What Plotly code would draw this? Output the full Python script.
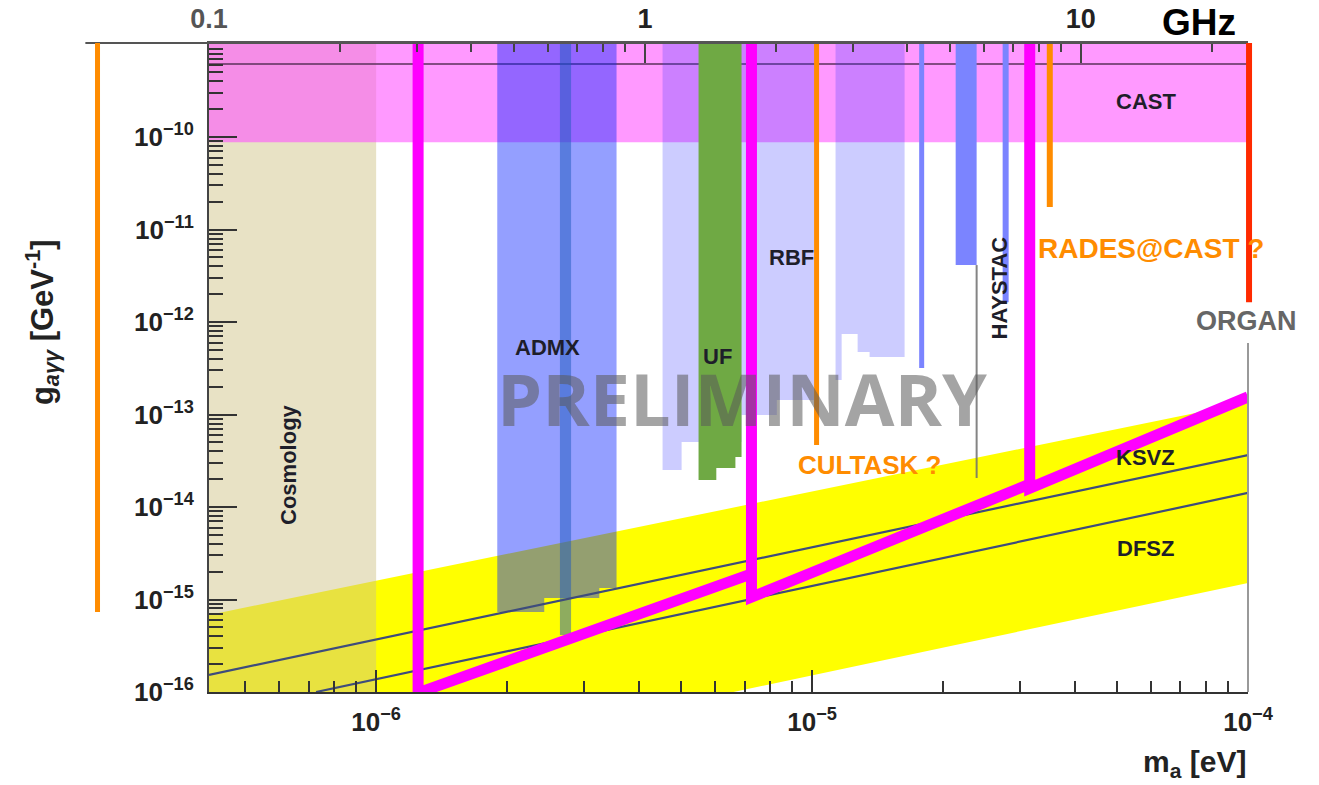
import math
import plotly.graph_objects as go

# ---------------- data ----------------
EV_PER_GHZ = 4.1357e-6                 # photon energy of 1 GHz in eV
m_lim = [0.1 * EV_PER_GHZ, 1e-4]       # axion mass range [eV]
g_lim = [1e-16, 1.04e-9]               # coupling range [GeV^-1]
g_beyond = 5e-9                        # regions run off the top of the frame

x_ticks = [1e-6, 1e-5, 1e-4]
x_ticktext = ["10<sup>−6</sup>", "10<sup>−5</sup>", "10<sup>−4</sup>"]
y_ticks = [1e-16, 1e-15, 1e-14, 1e-13, 1e-12, 1e-11, 1e-10]
y_ticktext = ["10<sup>−16</sup>", "10<sup>−15</sup>", "10<sup>−14</sup>", "10<sup>−13</sup>",
              "10<sup>−12</sup>", "10<sup>−11</sup>", "10<sup>−10</sup>"]
ghz_ticks = [0.1, 1, 10]
ghz_ticktext = ["<span style='color:#555'>0.1</span>", "1", "10"]

# QCD axion band and model lines
band_m = [4.136e-7, 1e-4, 1e-4, 6.6e-6, 4.136e-7]
band_g = [6.8e-16, 1.36e-13, 1.51e-15, 1e-16, 1e-16]
ksvz_m = [4.136e-7, 1e-4]
ksvz_g = [1.53e-16, 3.65e-14]
dfsz_m = [7.28e-7, 1e-4]
dfsz_g = [1e-16, 1.42e-14]

# exclusion regions
cosmology_m = [4.136e-7, 1e-6]
cast_floor = 8.8e-11
cast_limit = 6.15e-10
admx_edges = [1.896e-6, 2.43e-6, 3.25e-6, 3.56e-6]
admx_floor = [7.33e-16, 1.04e-15, 1.33e-15]
admx_narrow_m = [2.64e-6, 2.80e-6]
admx_narrow_floor = 4.13e-16
rbf1_edges = [4.54e-6, 5.02e-6, 6.89e-6, 8.3e-6, 1.013e-5]
rbf1_floor = [2.51e-14, 5.05e-14, 9.9e-14, 1.44e-13]
rbf2_edges = [1.132e-5, 1.169e-5, 1.272e-5, 1.355e-5, 1.63e-5]
rbf2_floor = [2.36e-13, 7.41e-13, 4.74e-13, 4.19e-13]
uf_edges = [5.49e-6, 6.03e-6, 6.67e-6, 6.89e-6]
uf_floor = [1.96e-14, 2.64e-14, 3.47e-14]
blue_line_m = [1.784e-5, 2.78e-5]
blue_line_floor = [3.18e-13, 1.64e-12]
blue_block_m = [2.135e-5, 2.385e-5]
blue_block_floor = 4.13e-12
haystac_m = 2.385e-5
haystac_g = [4.13e-12, 2.06e-14]
cultask_m = 1.024e-5
cultask_floor = 4.68e-14
rades_m = 3.51e-5
rades_floor = 1.75e-11
organ_m = 1e-4
organ_red_floor = 1.64e-12
organ_gray_top = 5.93e-13
left_orange_floor = 7.33e-16

# projected sensitivity (magenta), three stages
proj_m = [1.248e-6, 7.26e-6, 3.157e-5, 1e-4]
proj_vert_floor = [9.8e-17, 1.06e-15, 1.6e-14]
proj_diag_end = [1.89e-15, 1.77e-14, 1.55e-13]

# label positions (eV, GeV^-1)
labels = [
    ("CAST", 5.83e-5, 2.45e-10),
    ("ADMX", 2.47e-6, 5.37e-13),
    ("UF", 6.07e-6, 4.28e-13),
    ("RBF", 8.97e-6, 5.05e-12),
    ("KSVZ", 5.83e-5, 3.47e-14),
    ("DFSZ", 5.83e-5, 3.6e-15),
]
cosmology_label = (6.31e-7, 2.92e-14)
haystac_label = (2.69e-5, 2.33e-12)
cultask_label = (1.355e-5, 2.84e-14)
rades_label = (3.26e-5, 6.3e-12)
organ_label = (9.9e-5, 1.03e-12)
prelim_label = (6.92e-6, 1.51e-13)

# ---------------- figure ----------------
lg = math.log10
FONT = "Liberation Sans"
fig = go.Figure()


def area(xs, ys, color):
    fig.add_trace(go.Scatter(x=xs, y=ys, mode="lines", fill="toself", fillcolor=color,
                             line=dict(width=0, color=color), hoverinfo="skip"))


def rect(x0, x1, y0, y1, color):
    area([x0, x1, x1, x0, x0], [y0, y0, y1, y1, y0], color)


def steps(edges, floors, color):
    xs = [edges[0]]
    ys = [g_beyond]
    for i, f in enumerate(floors):
        xs += [edges[i], edges[i + 1]]
        ys += [f, f]
    xs += [edges[-1], edges[0]]
    ys += [g_beyond, g_beyond]
    area(xs, ys, color)


def vline(m, g0, g1, color, width):
    fig.add_trace(go.Scatter(x=[m, m], y=[g0, g1], mode="lines",
                             line=dict(color=color, width=width), hoverinfo="skip"))


# QCD band
area(band_m, band_g, "#ffff00")
# Cosmology
rect(cosmology_m[0], cosmology_m[1], g_lim[0], g_beyond, "rgba(207,195,133,0.48)")
# CAST
rect(m_lim[0], m_lim[1], cast_floor, g_beyond, "rgba(255,80,255,0.583)")
fig.add_trace(go.Scatter(x=m_lim, y=[cast_limit, cast_limit], mode="lines",
                         line=dict(color="rgba(90,50,90,0.75)", width=2), hoverinfo="skip"))
# RBF
steps(rbf1_edges, rbf1_floor, "rgba(55,55,255,0.255)")
steps(rbf2_edges, rbf2_floor, "rgba(55,55,255,0.255)")
# ADMX
steps(admx_edges, admx_floor, "rgba(12,37,255,0.44)")
rect(admx_narrow_m[0], admx_narrow_m[1], admx_narrow_floor, g_beyond, "rgba(30,90,190,0.5)")
# model lines
fig.add_trace(go.Scatter(x=ksvz_m, y=ksvz_g, mode="lines", line=dict(color="#3e4c7c", width=2.2)))
fig.add_trace(go.Scatter(x=dfsz_m, y=dfsz_g, mode="lines", line=dict(color="#3e4c7c", width=2.2)))
# UF
steps(uf_edges, uf_floor, "#6fa944")
# other haloscopes
vline(blue_line_m[0], blue_line_floor[0], g_beyond, "#7b84ff", 5)
vline(blue_line_m[1], blue_line_floor[1], g_beyond, "#7b84ff", 6)
rect(blue_block_m[0], blue_block_m[1], blue_block_floor, g_beyond, "#7b84ff")
vline(haystac_m, haystac_g[0], haystac_g[1], "rgba(110,110,110,0.85)", 2)
# future experiments
vline(cultask_m, cultask_floor, g_beyond, "#ff8c00", 5)
vline(rades_m, rades_floor, g_beyond, "#ff8c00", 6)

# magenta projection
px, py = [], []
for i in range(3):
    px += [proj_m[i], proj_m[i], proj_m[i + 1], None]
    py += [g_beyond, proj_vert_floor[i], proj_diag_end[i], None]
fig.add_trace(go.Scatter(x=px, y=py, mode="lines", connectgaps=False,
                         line=dict(color="#ff00ff", width=11), hoverinfo="skip"))

# dummy trace to carry the GHz axis
fig.add_trace(go.Scatter(x=[1], y=[1e-12], xaxis="x2", mode="markers",
                         marker=dict(opacity=0), hoverinfo="skip"))


def gpaper(g):
    return (lg(g) - lg(g_lim[0])) / (lg(g_lim[1]) - lg(g_lim[0]))


def mpaper(m):
    return (lg(m) - lg(m_lim[0])) / (lg(m_lim[1]) - lg(m_lim[0]))


shapes = [
    # top frame line running to the left
    dict(type="line", xref="paper", yref="paper", x0=-0.119, x1=1.0, y0=1.0, y1=1.0,
         line=dict(color="#555", width=2)),
    # stray orange line on the far left
    dict(type="line", xref="paper", yref="paper", x0=-0.1073, x1=-0.1073,
         y0=gpaper(left_orange_floor), y1=1.0, line=dict(color="#ff8c00", width=5)),
    # ORGAN red line and gray frame
    dict(type="line", xref="paper", yref="paper", x0=mpaper(organ_m) + 0.001, x1=mpaper(organ_m) + 0.001,
         y0=gpaper(organ_red_floor), y1=1.0, line=dict(color="#ff2a00", width=6)),
    dict(type="line", xref="paper", yref="paper", x0=mpaper(organ_m), x1=mpaper(organ_m),
         y0=0, y1=gpaper(organ_gray_top), line=dict(color="#999", width=2)),
]

lab_font = dict(family=FONT, size=22, color="#1e1e2a", weight="bold")


def note(text, m, g, font, angle=0, xanchor="center"):
    return dict(text=text, x=lg(m), y=lg(g), xref="x", yref="y", showarrow=False,
                textangle=angle, font=font, xanchor=xanchor, yanchor="middle")


ann = [note(t, m, g, lab_font) for t, m, g in labels]
ann.append(note("Cosmology", *cosmology_label, lab_font, angle=-90))
ann.append(note("HAYSTAC", *haystac_label, lab_font, angle=-90))
ann.append(note("CULTASK ?", *cultask_label,
                dict(family=FONT, size=26, color="#ff8c00", weight="bold")))
ann.append(note("RADES@CAST ?", *rades_label,
                dict(family=FONT, size=28, color="#ff8c00", weight="bold"), xanchor="left"))
ann.append(note("ORGAN", *organ_label, dict(family=FONT, size=27, color="#666", weight="bold")))
ann.append(note("PRELIMINARY", *prelim_label,
                dict(family="Open Sans", size=72, color="rgba(90,90,90,0.55)", weight="bold")))
ann.append(dict(text="GHz", x=0.953, y=1.032, xref="paper", yref="paper", showarrow=False,
                xanchor="center", yanchor="middle",
                font=dict(family=FONT, size=37, color="#000", weight="bold")))
ann.append(dict(text="m<sub>a</sub> [eV]", x=1.0, y=-0.11, xref="paper", yref="paper",
                xanchor="right", yanchor="middle", showarrow=False,
                font=dict(family=FONT, size=30, color="#222", weight="bold")))
ann.append(dict(text="g<sub><i>aγγ</i></sub> [GeV<sup>-1</sup>]", x=-0.1607, y=0.570,
                xref="paper", yref="paper", textangle=-90, showarrow=False,
                xanchor="center", yanchor="middle",
                font=dict(family=FONT, size=31, color="#222", weight="bold")))

x_minor = [k * 10 ** e for e in (-7, -6, -5) for k in range(2, 10) if m_lim[0] <= k * 10 ** e <= m_lim[1]]
y_minor = [k * 10 ** e for e in range(-16, -8) for k in range(2, 10) if k * 10 ** e <= g_lim[1]]
ghz_minor = [k * 10 ** e for e in (-1, 0, 1) for k in range(2, 10)
             if k * 10 ** e <= m_lim[1] / EV_PER_GHZ]

tickfont = dict(family=FONT, size=26, color="#222", weight="bold")
fig.update_layout(
    width=1319, height=785, autosize=False,
    margin=dict(l=209, r=71, t=43, b=93, autoexpand=False),
    paper_bgcolor="white", plot_bgcolor="white",
    showlegend=False,
    shapes=shapes, annotations=ann,
    xaxis=dict(type="log", range=[lg(m_lim[0]), lg(m_lim[1])], tickmode="array", automargin=False,
               tickvals=x_ticks, ticktext=x_ticktext, ticks="inside", ticklen=22, tickwidth=2,
               tickcolor="#333", showline=True, linecolor="#333", linewidth=2,
               showgrid=False, zeroline=False, tickfont=tickfont, ticklabelstandoff=6,
               minor=dict(tickmode="array", tickvals=x_minor, ticks="inside", ticklen=11,
                          tickwidth=1.5, tickcolor="#333", showgrid=False)),
    xaxis2=dict(type="log", overlaying="x", side="top", anchor="y", automargin=False,
                range=[lg(0.1), lg(m_lim[1] / EV_PER_GHZ)], tickmode="array",
                tickvals=ghz_ticks, ticktext=ghz_ticktext, ticks="inside", ticklen=20, tickwidth=1.5,
                tickcolor="#444", showline=True, linecolor="#555", linewidth=2, showgrid=False,
                zeroline=False, tickfont=dict(family=FONT, size=27, color="#222", weight="bold"),
                ticklabelstandoff=2,
                minor=dict(tickmode="array", tickvals=ghz_minor, ticks="inside", ticklen=9,
                           tickwidth=1.5, tickcolor="#444", showgrid=False)),
    yaxis=dict(type="log", range=[lg(g_lim[0]), lg(g_lim[1])], tickmode="array", automargin=False,
               tickvals=y_ticks, ticktext=y_ticktext, ticks="inside", ticklen=28, tickwidth=2,
               tickcolor="#333", showline=True, linecolor="#444", linewidth=2,
               showgrid=False, zeroline=False, tickfont=tickfont, ticklabelstandoff=8,
               minor=dict(tickmode="array", tickvals=y_minor, ticks="inside", ticklen=14,
                          tickwidth=1.5, tickcolor="#333", showgrid=False)),
)

fig.write_html("out.html", config={"displayModeBar": False},
               post_script="document.body.style.margin='0';")
